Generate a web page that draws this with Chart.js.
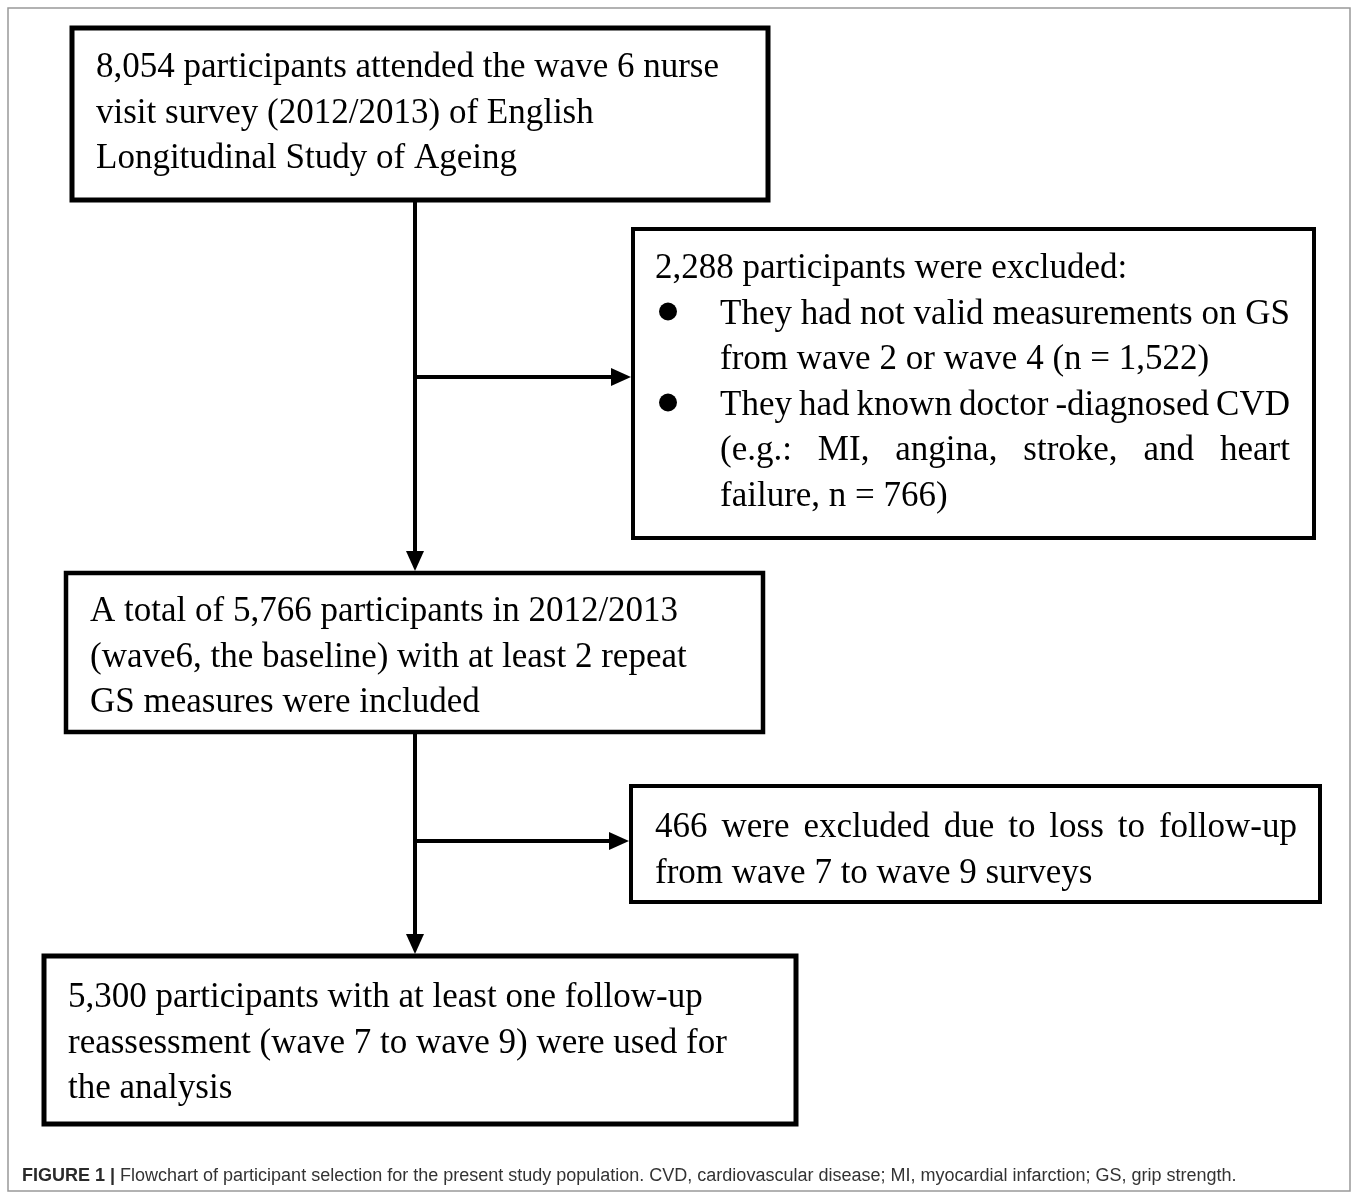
<!DOCTYPE html>
<html><head><meta charset="utf-8">
<script src="https://cdn.jsdelivr.net/npm/chart.js@4.4.1/dist/chart.umd.min.js"></script>
<style>html,body{margin:0;padding:0;background:#fff;}#wrap{width:1358px;height:1192px;position:relative;}</style>
</head><body><div id="wrap"><canvas id="c"></canvas></div>
<script>
// ---- content (data) ----
const stepNames = ['attended', 'excluded1', 'included', 'excluded2', 'analysed'];
const stepCounts = [8054, 2288, 5766, 466, 5300];
const box1Lines = ['8,054 participants attended the wave 6 nurse', 'visit survey (2012/2013) of English', 'Longitudinal Study of Ageing'];
const box2Head = ['2,288 participants were excluded:'];
const box2Bullet1 = ['They had not valid measurements on GS', 'from wave 2 or wave 4 (n = 1,522)'];
const box2Bullet2 = ['They had known doctor -diagnosed CVD', '(e.g.:  MI,  angina,  stroke,  and  heart', 'failure, n = 766)'];
const box3Lines = ['A total of 5,766 participants in 2012/2013', '(wave6, the baseline) with at least 2 repeat', 'GS measures were included'];
const box4Lines = ['466 were excluded due to loss to follow-up', 'from wave 7 to wave 9 surveys'];
const box5Lines = ['5,300 participants with at least one follow-up', 'reassessment (wave 7 to wave 9) were used for', 'the analysis'];
const captionBold = 'FIGURE 1 |';
const captionText = ' Flowchart of participant selection for the present study population. CVD, cardiovascular disease; MI, myocardial infarction; GS, grip strength.';

// ---- layout (positions / styles, in scale units) ----
const layout = {
  frame: {x0: 8, y0: 8, x1: 1350, y1: 1191},
  boxes: [
    {x0: 72, y0: 28, x1: 768, y1: 200, lw: 5, tx: 96, base: 77, lh: 45.5, sx: 1, right: 740},
    {x0: 633, y0: 229, x1: 1314, y1: 538, lw: 4, tx: 655, base: 278, lh: 45.5, sx: 1, indent: 720, bulletX: 668, right: 1290},
    {x0: 66, y0: 573, x1: 763, y1: 732, lw: 4.5, tx: 90, base: 621, lh: 45.5, sx: 1, right: 740},
    {x0: 631, y0: 786, x1: 1320, y1: 902, lw: 4, tx: 655, base: 837, lh: 45.5, sx: 1, right: 1297},
    {x0: 44, y0: 956, x1: 796, y1: 1124, lw: 5, tx: 68, base: 1007, lh: 45.5, sx: 1, right: 780}
  ],
  arrows: [
    {type: 'v', x: 415, y0: 200, y1: 571},
    {type: 'h', y: 377, x0: 415, x1: 631},
    {type: 'v', x: 415, y0: 732, y1: 954},
    {type: 'h', y: 841, x0: 415, x1: 629}
  ],
  font: '35px "Liberation Serif", "Times New Roman", serif',
  capY: 1175, capX: 22
};

function drawLine(ctx, text, x, y, sx, justifyTo) {
  ctx.save();
  ctx.translate(x, y);
  ctx.scale(sx, 1);
  if (justifyTo) {
    const words = text.split(/\s+/);
    const wsum = words.reduce((a, w) => a + ctx.measureText(w).width, 0);
    const target = (justifyTo - x) / sx;
    const gap = (target - wsum) / (words.length - 1);
    let cx = 0;
    words.forEach(w => { ctx.fillText(w, cx, 0); cx += ctx.measureText(w).width + gap; });
  } else {
    ctx.fillText(text, 0, 0);
  }
  ctx.restore();
}

const flowPlugin = {
  id: 'flow',
  afterDraw(chart) {
    const ctx = chart.ctx, X = chart.scales.x, Y = chart.scales.y;
    const px = v => X.getPixelForValue(v), py = v => Y.getPixelForValue(v);
    ctx.save();
    ctx.fillStyle = '#fff';
    ctx.fillRect(0, 0, chart.width, chart.height);
    // frame
    const f = layout.frame;
    ctx.strokeStyle = '#999'; ctx.lineWidth = 1.5;
    ctx.strokeRect(px(f.x0), py(f.y0), px(f.x1) - px(f.x0), py(f.y1) - py(f.y0));
    // boxes
    ctx.strokeStyle = '#000';
    layout.boxes.forEach(b => {
      ctx.lineWidth = b.lw;
      ctx.strokeRect(px(b.x0), py(b.y0), px(b.x1) - px(b.x0), py(b.y1) - py(b.y0));
    });
    // arrows
    ctx.fillStyle = '#000'; ctx.lineWidth = 4; ctx.lineCap = 'butt';
    const ah = 20, aw = 9;
    layout.arrows.forEach(a => {
      ctx.beginPath();
      if (a.type === 'v') {
        const x = px(a.x), y0 = py(a.y0), y1 = py(a.y1);
        ctx.moveTo(x, y0); ctx.lineTo(x, y1 - ah + 2); ctx.stroke();
        ctx.beginPath(); ctx.moveTo(x - aw, y1 - ah); ctx.lineTo(x + aw, y1 - ah); ctx.lineTo(x, y1); ctx.closePath(); ctx.fill();
      } else {
        const y = py(a.y), x0 = px(a.x0), x1 = px(a.x1);
        ctx.moveTo(x0, y); ctx.lineTo(x1 - ah + 2, y); ctx.stroke();
        ctx.beginPath(); ctx.moveTo(x1 - ah, y - aw); ctx.lineTo(x1 - ah, y + aw); ctx.lineTo(x1, y); ctx.closePath(); ctx.fill();
      }
    });
    // texts
    ctx.font = layout.font; ctx.fillStyle = '#000'; ctx.textBaseline = 'alphabetic';
    const simple = (b, lines, justify) => lines.forEach((t, i) => drawLine(ctx, t, px(b.tx), py(b.base + i * b.lh), b.sx, justify && i < lines.length - 1 ? px(b.right) : null));
    const B = layout.boxes;
    simple(B[0], box1Lines, false);
    // box 2
    const b2 = B[1];
    let row = 0;
    drawLine(ctx, box2Head[0], px(b2.tx), py(b2.base), b2.sx, null); row++;
    [box2Bullet1, box2Bullet2].forEach(lines => {
      ctx.beginPath(); ctx.arc(px(b2.bulletX), py(b2.base + row * b2.lh) - 12, 9, 0, Math.PI * 2); ctx.fill();
      lines.forEach((t, i) => {
        drawLine(ctx, t, px(b2.indent), py(b2.base + row * b2.lh), b2.sx, i < lines.length - 1 ? px(b2.right) : null);
        row++;
      });
    });
    simple(B[2], box3Lines, false);
    simple(B[3], box4Lines, true);
    simple(B[4], box5Lines, false);
    // caption
    ctx.fillStyle = '#2a2a2a';
    ctx.font = 'bold 18px "Liberation Sans", Arial, sans-serif';
    ctx.fillText(captionBold, px(layout.capX), py(layout.capY + 6));
    const wb = ctx.measureText(captionBold).width;
    ctx.fillStyle = '#333';
    ctx.font = '18px "Liberation Sans", Arial, sans-serif';
    ctx.fillText(captionText, px(layout.capX) + wb, py(layout.capY + 6));
    ctx.restore();
  }
};

new Chart(document.getElementById('c'), {
  type: 'scatter',
  data: {labels: stepNames, datasets: [{data: stepCounts.map(() => ({x: -100, y: -100})), pointRadius: 0}]},
  options: {
    responsive: true, maintainAspectRatio: false, animation: false,
    layout: {padding: 0},
    plugins: {legend: {display: false}, tooltip: {enabled: false}},
    scales: {
      x: {type: 'linear', min: 0, max: 1358, display: false},
      y: {type: 'linear', min: 0, max: 1192, reverse: true, display: false}
    }
  },
  plugins: [flowPlugin]
});
</script></body></html>
